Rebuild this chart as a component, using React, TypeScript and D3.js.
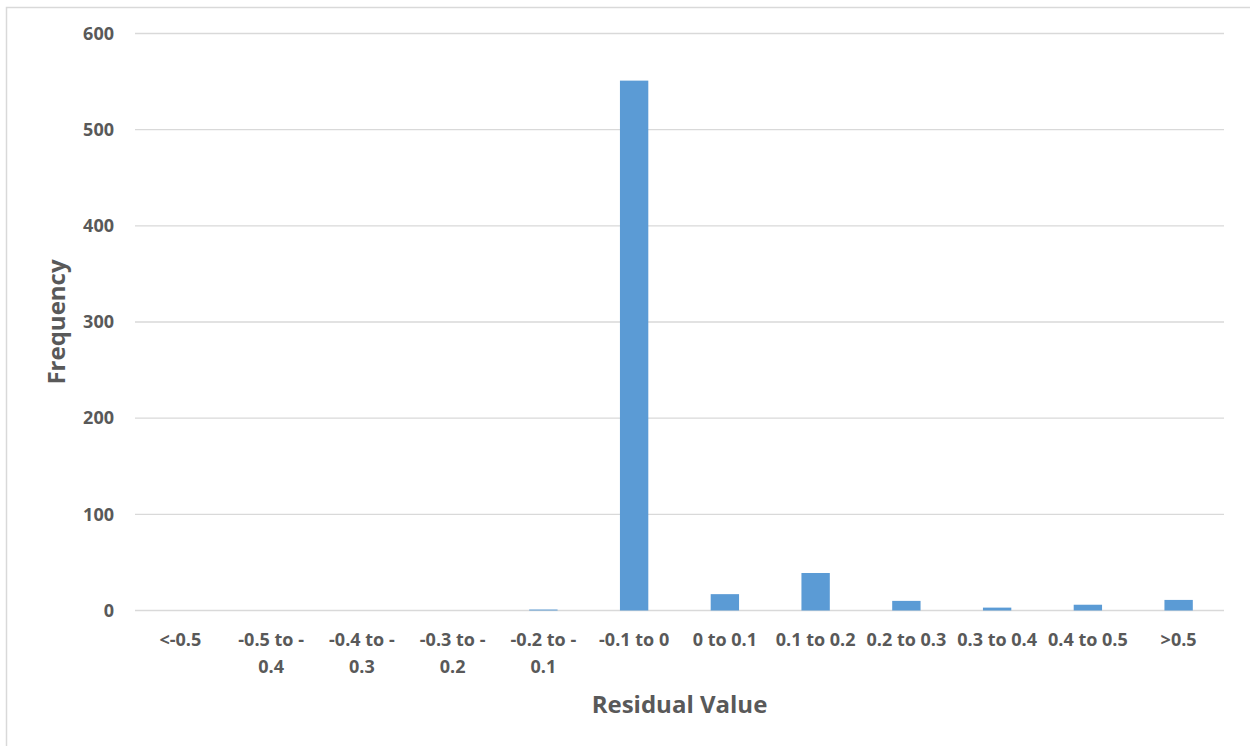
import React from "react";
import * as d3 from "d3";

const categories = [
  "<-0.5",
  "-0.5 to -0.4",
  "-0.4 to -0.3",
  "-0.3 to -0.2",
  "-0.2 to -0.1",
  "-0.1 to 0",
  "0 to 0.1",
  "0.1 to 0.2",
  "0.2 to 0.3",
  "0.3 to 0.4",
  "0.4 to 0.5",
  ">0.5",
];
const frequencies = [0, 0, 0, 0, 1, 551, 17, 39, 10, 3, 6, 11];
const yTicks = [0, 100, 200, 300, 400, 500, 600];

const W = 1250;
const H = 746;
const margin = { left: 135, right: 26, top: 33.5, bottom: 135.5 };
const FONT = "'Open Sans', 'Noto Sans', sans-serif";
const TEXT = "#595959";

// Split long labels like "-0.5 to -0.4" into "-0.5 to -" / "0.4"
function labelLines(label: string): string[] {
  const m = label.match(/^(-\S+ to -)(\S+)$/);
  return m ? [m[1], m[2]] : [label];
}

export default function App() {
  const x = d3
    .scaleBand<string>()
    .domain(categories)
    .range([margin.left, W - margin.right])
    .paddingInner(0.6875)
    .paddingOuter(0.34375);
  const y = d3.scaleLinear().domain([0, 600]).range([H - margin.bottom, margin.top]);

  const band = (W - margin.right - margin.left) / categories.length;

  return (
    <svg
      width={W}
      height={H}
      style={{ position: "absolute", left: 0, top: 0, background: "#fff" }}
      fontFamily={FONT}
    >
      <rect x={6.5} y={7.5} width={W + 10} height={H + 10} fill="#fff" stroke="#D9D9D9" strokeWidth={1.5} />
      {yTicks.map((t) => (
        <g key={t}>
          <line
            x1={margin.left}
            x2={W - margin.right}
            y1={y(t)}
            y2={y(t)}
            stroke="#D9D9D9"
            strokeWidth={1.3}
          />
          <text
            x={114}
            y={y(t)}
            dy="0.35em"
            textAnchor="end"
            fontSize={18}
            fontWeight="bold"
            fill={TEXT}
          >
            {t}
          </text>
        </g>
      ))}
      {categories.map((c, i) => (
        <rect
          key={c}
          x={x(c)}
          y={y(frequencies[i])}
          width={x.bandwidth()}
          height={y(0) - y(frequencies[i])}
          fill="#5B9BD5"
        />
      ))}
      {categories.map((c, i) => {
        const cx = margin.left + band * (i + 0.5);
        return (
          <text
            key={c}
            x={cx}
            y={640}
            textAnchor="middle"
            fontSize={18}
            fontWeight="bold"
            fill={TEXT}
          >
            {labelLines(c).map((ln, j) => (
              <tspan key={j} x={cx} dy={j === 0 ? "0.35em" : 27}>
                {ln}
              </tspan>
            ))}
          </text>
        );
      })}
      <text
        x={(margin.left + W - margin.right) / 2}
        y={705}
        dy="0.35em"
        textAnchor="middle"
        fontSize={24}
        fontWeight="bold"
        fill={TEXT}
      >
        Residual Value
      </text>
      <text
        transform={`translate(57, ${y(300)}) rotate(-90)`}
        dy="0.35em"
        textAnchor="middle"
        fontSize={24}
        fontWeight="bold"
        fill={TEXT}
      >
        Frequency
      </text>
    </svg>
  );
}
